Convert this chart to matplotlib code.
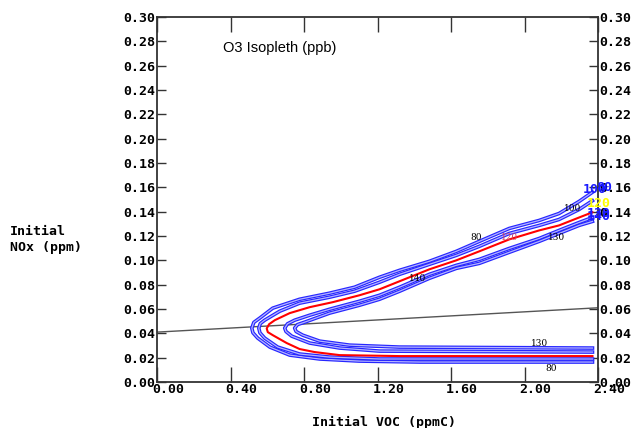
import numpy as np
import matplotlib
matplotlib.use("Agg")
import matplotlib.pyplot as plt
import matplotlib.transforms as mtransforms

# contour traces (lower branch right->nose, then upper branch nose->right)
c80_x = [2.37, 1.43, 1.10, 0.885, 0.722, 0.614, 0.548, 0.522, 0.516, 0.527, 0.559, 0.630, 0.776, 0.939,
         1.075, 1.211, 1.320, 1.482, 1.629, 1.754, 1.917, 2.080, 2.188, 2.297, 2.37]
c80_y = [0.0164, 0.0164, 0.0172, 0.0189, 0.0221, 0.0287, 0.0361, 0.0405, 0.0443, 0.0490, 0.0525, 0.0607,
         0.0680, 0.0730, 0.0779, 0.0861, 0.0918, 0.0992, 0.1074, 0.1156, 0.1262, 0.1328, 0.1385, 0.1484, 0.1560]

c100_x = [2.37, 1.211, 0.939, 0.776, 0.657, 0.586, 0.560, 0.554, 0.562, 0.586, 0.668, 0.776, 0.939,
          1.075, 1.211, 1.320, 1.482, 1.629, 1.754, 1.917, 2.080, 2.188, 2.297, 2.37]
c100_y = [0.0189, 0.0189, 0.0205, 0.0230, 0.0287, 0.0361, 0.0405, 0.0443, 0.0480, 0.0508, 0.0582, 0.0648,
          0.0697, 0.0746, 0.0820, 0.0885, 0.0967, 0.1041, 0.1115, 0.1221, 0.1287, 0.1336, 0.1418, 0.1490]

c120_x = [2.37, 1.32, 0.994, 0.858, 0.776, 0.706, 0.630, 0.603, 0.597, 0.610, 0.641, 0.722, 0.831, 0.956,
          1.102, 1.211, 1.320, 1.482, 1.629, 1.754, 1.917, 2.080, 2.188, 2.297, 2.37]
c120_y = [0.0213, 0.0213, 0.0221, 0.0246, 0.0271, 0.0320, 0.0385, 0.0410, 0.0440, 0.0475, 0.0508, 0.0566,
          0.0615, 0.0656, 0.0713, 0.0762, 0.0828, 0.0926, 0.1000, 0.1074, 0.1172, 0.1246, 0.1287, 0.1352, 0.1395]

c130_x = [2.37, 1.211, 0.994, 0.831, 0.733, 0.702, 0.695, 0.710, 0.749, 0.831, 0.939, 1.102, 1.211,
          1.320, 1.482, 1.629, 1.754, 1.917, 2.080, 2.188, 2.297, 2.37]
c130_y = [0.0246, 0.0254, 0.0279, 0.0320, 0.0377, 0.0415, 0.0443, 0.0478, 0.0508, 0.0549, 0.0598, 0.0664,
          0.0713, 0.0779, 0.0885, 0.0959, 0.1008, 0.1098, 0.1180, 0.1246, 0.1311, 0.1352]

c140_x = [2.37, 1.32, 1.048, 0.885, 0.793, 0.757, 0.749, 0.765, 0.804, 0.939, 1.102, 1.211, 1.320,
          1.482, 1.629, 1.754, 1.917, 2.080, 2.188, 2.297, 2.37]
c140_y = [0.0279, 0.0287, 0.0303, 0.0336, 0.0385, 0.0415, 0.0443, 0.0472, 0.0492, 0.0566, 0.0631, 0.0680,
          0.0746, 0.0852, 0.0934, 0.0975, 0.1066, 0.1156, 0.1221, 0.1287, 0.1320]

# straight NOx/VOC ratio line
ratio_x = [0.0, 2.4]
ratio_y = [0.041, 0.061]

# inline contour labels (text, x, y)
inline_labels = [("80", 1.737, 0.119), ("100", 2.259, 0.1426), ("130", 2.172, 0.119),
                 ("140", 1.417, 0.0853), ("130", 2.080, 0.032), ("80", 2.145, 0.0115)]
red_label = ("120", 1.917, 0.119)

# labels piled up at the right edge (text, x, y, colour)
edge_labels = [("80", 2.433, 0.160, "#1a1aff"), ("100", 2.384, 0.158, "#1a1aff"),
               ("120", 2.405, 0.1467, "#ffff00"), ("130", 2.405, 0.1385, "#1a1aff"),
               ("140", 2.405, 0.136, "#1a1aff")]

xticks = [0.0, 0.4, 0.8, 1.2, 1.6, 2.0, 2.4]
yticks = [0.00, 0.02, 0.04, 0.06, 0.08, 0.10, 0.12, 0.14, 0.16, 0.18, 0.20, 0.22, 0.24, 0.26, 0.28, 0.30]

mono = "DejaVu Sans Mono"

fig = plt.figure(figsize=(6.36, 4.28), dpi=100)
ax = fig.add_axes([157/636, 1 - 382/428, (598 - 157)/636, (382 - 17)/428])

ax.plot(ratio_x, ratio_y, color="#555555", lw=1.0, zorder=2)

for cx, cy in [(c80_x, c80_y), (c100_x, c100_y), (c130_x, c130_y), (c140_x, c140_y)]:
    ax.plot(cx, cy, color="#2626ff", lw=2.6, solid_joinstyle="round", zorder=3)
    ax.plot(cx, cy, color="#b4b4ff", lw=0.9, solid_joinstyle="round", zorder=3)
ax.plot(c120_x, c120_y, color="#ff0000", lw=1.5, zorder=4)

for txt, x, y in inline_labels:
    ax.text(x, y, txt, fontsize=6.5, family="DejaVu Serif", color="black",
            ha="center", va="center", zorder=5)
ax.text(red_label[1], red_label[2], red_label[0], fontsize=6.5, family="DejaVu Serif",
        color="#d04060", ha="center", va="center", zorder=5)

for txt, x, y, col in edge_labels:
    ax.text(x, y, txt, fontsize=9.5, family=mono, weight="bold", color=col,
            ha="center", va="center", zorder=6, clip_on=False)

ax.set_xlim(0, 2.4)
ax.set_ylim(0, 0.30)
ax.set_xticks(xticks)
ax.set_xticklabels(["%.2f" % v for v in xticks])
ax.set_yticks(yticks)
ax.set_yticklabels(["%.2f" % v for v in yticks])

ax.tick_params(axis="x", direction="in", length=11, width=1, top=True, bottom=True, pad=1, color="#333333")
ax.tick_params(axis="y", direction="in", length=6.5, width=1, left=True, right=True, labelright=True,
               pad=1, color="#333333")
for lab in ax.get_xticklabels() + ax.get_yticklabels():
    lab.set_fontfamily(mono)
    lab.set_fontweight("bold")
    lab.set_fontsize(9.5)
shift = mtransforms.ScaledTranslation(11/100, 0, fig.dpi_scale_trans)
for lab in ax.get_xticklabels():
    lab.set_transform(lab.get_transform() + shift)

for sp in ax.spines.values():
    sp.set_color("#333333")
    sp.set_linewidth(1.3)

ax.text(0.15, 0.915, "O3 Isopleth (ppb)", transform=ax.transAxes, family="Liberation Sans",
        fontsize=10.5, ha="left", va="center")

fig.text(10/636, 1 - 232/428, "Initial", family=mono, weight="bold", fontsize=9.5, ha="left", va="center")
fig.text(10/636, 1 - 247/428, "NOx (ppm)", family=mono, weight="bold", fontsize=9.5, ha="left", va="center")
fig.text(384/636, 1 - 422/428, "Initial VOC (ppmC)", family=mono, weight="bold", fontsize=9.5,
         ha="center", va="center")

fig.savefig("out.png", dpi=100)
